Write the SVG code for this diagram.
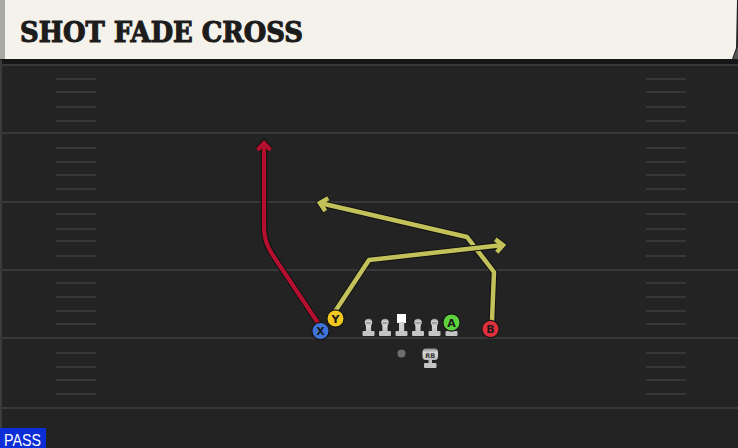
<svg xmlns="http://www.w3.org/2000/svg" width="738" height="448" viewBox="0 0 738 448">
<style>
.yard{stroke:#383838;stroke-width:2;fill:none}
.hash{stroke:#363636;stroke-width:2;fill:none}
.out{fill:none;stroke:#121212;stroke-width:6.5;stroke-linejoin:round;stroke-linecap:butt}
.red{fill:none;stroke:#b3102e;stroke-width:4.2;stroke-linejoin:round}
.yel{fill:none;stroke:#c3c25a;stroke-width:4.5;stroke-linejoin:round}
.lbl{font-family:"DejaVu Sans","Liberation Sans",sans-serif;font-weight:bold;font-size:11px;fill:#1a1a1a;text-anchor:middle}
.ring{stroke:#151515;stroke-width:1.2}
.lm{fill:url(#lmg)}
</style>
<defs>
<linearGradient id="lmg" x1="0" y1="0" x2="0" y2="1">
<stop offset="0" stop-color="#8d8d8d"/>
<stop offset="0.35" stop-color="#d6d6d6"/>
<stop offset="1" stop-color="#bdbdbd"/>
</linearGradient>
<g id="lineman">
<circle cx="0" cy="-13.5" r="3.7" class="lm"/>
<rect x="-2.6" y="-14" width="5.2" height="10" class="lm"/>
<rect x="-6" y="-5" width="12" height="5" rx="1" fill="#c4c4c4"/>
</g>
<marker id="arO" markerUnits="userSpaceOnUse" viewBox="-12 -10 16 20" refX="0" refY="0" markerWidth="16" markerHeight="20" orient="auto" overflow="visible">
<path d="M-7,-6.5 L0,0 L-7,6.5" fill="none" stroke="#121212" stroke-width="6.5" stroke-linejoin="miter"/>
</marker>
<marker id="arR" markerUnits="userSpaceOnUse" viewBox="-12 -10 16 20" refX="0" refY="0" markerWidth="16" markerHeight="20" orient="auto" overflow="visible">
<path d="M-7,-6.5 L0,0 L-7,6.5" fill="none" stroke="#b3102e" stroke-width="4.2" stroke-linejoin="miter"/>
</marker>
<marker id="arY" markerUnits="userSpaceOnUse" viewBox="-12 -10 16 20" refX="0" refY="0" markerWidth="16" markerHeight="20" orient="auto" overflow="visible">
<path d="M-7,-6.5 L0,0 L-7,6.5" fill="none" stroke="#c3c25a" stroke-width="4.5" stroke-linejoin="miter"/>
</marker>
</defs>

<g id="field">
<rect x="0" y="0" width="738" height="448" fill="#232323"/>
<rect x="0" y="59" width="738" height="5" fill="#161616"/>
<rect x="0" y="60" width="2" height="388" fill="#3c3c3c"/>
<path class="yard" d="M0,65H738M0,133H738M0,202H738M0,270H738M0,338H738M0,408H738"/>
<path class="hash" d="M56,79h40M56,92h40M56,107h40M56,121h40M56,148h40M56,162h40M56,175h40M56,189h40M56,214h40M56,229h40M56,241h40M56,256h40M56,283h40M56,297h40M56,311h40M56,324h40M56,353h40M56,367h40M56,380h40M56,394h40"/>
<path class="hash" d="M646,79h40M646,92h40M646,107h40M646,121h40M646,148h40M646,162h40M646,175h40M646,189h40M646,214h40M646,229h40M646,241h40M646,256h40M646,283h40M646,297h40M646,311h40M646,324h40M646,353h40M646,367h40M646,380h40M646,394h40"/>
</g>

<g id="header">
<polygon points="0,0 737,0 736,48 732,59 0,59" fill="#f5f2ec"/>
<polygon points="733,59 738,46 738,59" fill="#555"/>
<rect x="0" y="0" width="5" height="59" fill="#a9aaa6"/>
<text x="20" y="42" font-family="'DejaVu Serif','Liberation Serif',serif" font-weight="bold" font-size="27" fill="#1c1c1c" stroke="#1c1c1c" stroke-width="1.1" textLength="283" lengthAdjust="spacingAndGlyphs">SHOT FADE CROSS</text>
</g>

<g id="connectors">
<path class="out" d="M318,323 L272,254 Q264,241 264,228 L264,143" marker-end="url(#arO)"/>
<path class="red" d="M318,323 L272,254 Q264,241 264,228 L264,143" marker-end="url(#arR)"/>
<path class="out" d="M492,321 L494,272 L467,237 L320,203" marker-end="url(#arO)"/>
<path class="yel" d="M492,321 L494,272 L467,237 L320,203" marker-end="url(#arY)"/>
<path class="out" d="M334,313 L369,260 L503,245" marker-end="url(#arO)"/>
<path class="yel" d="M334,313 L369,260 L503,245" marker-end="url(#arY)"/>
</g>

<g id="X">
<circle cx="320.5" cy="331" r="8.6" fill="#3f73d8" class="ring"/>
<text x="320.5" y="335" class="lbl">X</text>
</g>
<g id="Y">
<circle cx="335.5" cy="318.5" r="8.6" fill="#f2c71f" class="ring"/>
<text x="335.5" y="322.5" class="lbl">Y</text>
</g>
<g id="LT"><use href="#lineman" x="368.5" y="336"/></g>
<g id="LG"><use href="#lineman" x="385" y="336"/></g>
<g id="C">
<rect x="397" y="314" width="9" height="9" fill="#ffffff"/>
<rect x="399" y="322" width="5.2" height="10" fill="#cfcfcf"/>
<rect x="395.5" y="331" width="12" height="5" rx="1" fill="#c4c4c4"/>
</g>
<g id="RG"><use href="#lineman" x="418" y="336"/></g>
<g id="RT"><use href="#lineman" x="434.5" y="336"/></g>
<g id="A">
<rect x="445.5" y="331" width="12" height="5" rx="1" fill="#c4c4c4"/>
<rect x="449" y="327" width="5" height="5" fill="#bdbdbd"/>
<circle cx="451.5" cy="322.5" r="8.6" fill="#5dd23c" class="ring"/>
<text x="451.5" y="326.5" class="lbl">A</text>
</g>
<g id="B">
<circle cx="490.5" cy="329" r="8.6" fill="#e0303c" class="ring"/>
<text x="490.5" y="333" class="lbl">B</text>
</g>
<g id="QB">
<circle cx="401.5" cy="353.5" r="4" fill="#6e6e6e"/>
</g>
<g id="RB">
<rect x="428.5" y="359" width="3.5" height="5" fill="#bdbdbd"/>
<rect x="424" y="363" width="12.5" height="5" rx="1" fill="#c4c4c4"/>
<rect x="422.5" y="348.5" width="15.5" height="11.5" rx="3.5" fill="url(#lmg)"/>
<text x="430.2" y="357.6" font-family="'DejaVu Sans','Liberation Sans',sans-serif" font-weight="bold" font-size="6.5" fill="#3a3a3a" text-anchor="middle">RB</text>
</g>

<g id="pass">
<rect x="0" y="428" width="46" height="20" fill="#0b2ed6"/>
<text x="4" y="445.5" font-family="'Liberation Sans','DejaVu Sans',sans-serif" font-size="17" fill="#ffffff" textLength="37" lengthAdjust="spacingAndGlyphs">PASS</text>
</g>
</svg>
